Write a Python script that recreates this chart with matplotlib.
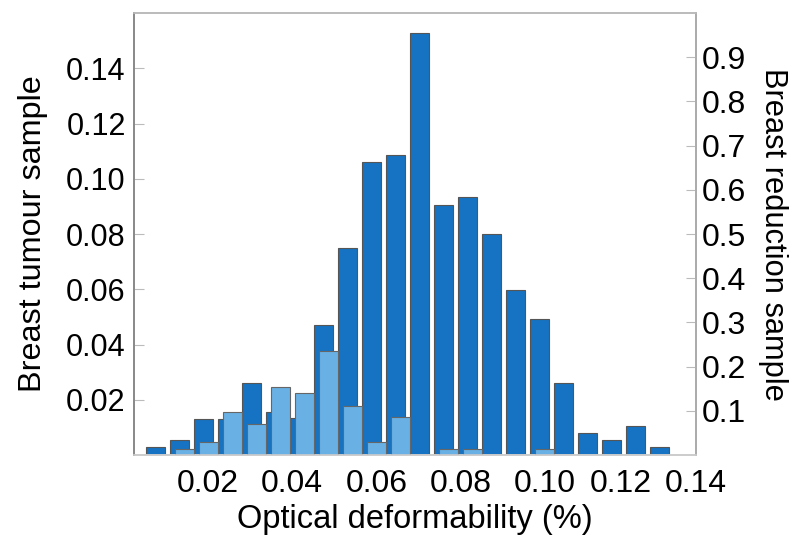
import numpy as np
import matplotlib
matplotlib.use('Agg')
import matplotlib.pyplot as plt

plt.rcParams['font.family'] = ['Liberation Sans', 'DejaVu Sans']

# tumour sample, normalised frequency (left axis), 22 bins
tumour = [0.0029, 0.0054, 0.0130, 0.0130, 0.0260, 0.0157, 0.0134, 0.0470,
          0.0750, 0.1060, 0.1085, 0.1527, 0.0904, 0.0933, 0.0800, 0.0597,
          0.0492, 0.0260, 0.0080, 0.0054, 0.0105, 0.0029]
tumour_first = 0.00753

# reduction sample, normalised frequency (right axis), 16 bins
reduction = [0.0143, 0.0287, 0.0973, 0.0708, 0.154, 0.140, 0.236, 0.110,
             0.0287, 0.0853, 0.0, 0.0143, 0.0143, 0.0, 0.0, 0.0143]
reduction_first = 0.01442

bin_w = 0.0057
xticks = [0.02, 0.04, 0.06, 0.08, 0.10, 0.12]
xticklabels = ['0.02', '0.04', '0.06', '0.08', '0.10', '0.12', '0.14']
left_ticks = [0.02, 0.04, 0.06, 0.08, 0.10, 0.12, 0.14]
right_ticks = [0.1, 0.2, 0.3, 0.4, 0.5, 0.6, 0.7, 0.8, 0.9]

dark = '#1673c3'
light = '#69b1e5'

fig = plt.figure(figsize=(8, 5.51), dpi=100)
ax = fig.add_axes([0.1675, 0.1742, 0.7025, 0.8022])
ax2 = ax.twinx()

xt = tumour_first + bin_w * np.arange(len(tumour))
xr = reduction_first + bin_w * np.arange(len(reduction))
ax.bar(xt, tumour, width=0.0045, color=dark, edgecolor='#555555', linewidth=0.8)
ax2.bar(xr, reduction, width=0.0045, color=light, edgecolor='#666666', linewidth=0.8)

ax.set_xlim(0.0024, 0.1359)
ax.set_ylim(0, 0.16)
ax2.set_ylim(0, 1.0)

# the original squeezes the last labels towards the right edge
ax.set_xticks(xticks[:-1] + [0.1181, 0.1375 - 0.0015])
ax.set_xticklabels(xticklabels, fontsize=23)
ax.tick_params(axis='x', length=0, pad=10)
ax.set_yticks(left_ticks)
ax.set_yticklabels(['%.2f' % v for v in left_ticks], fontsize=22)
ax.tick_params(axis='y', direction='in', length=7, color='#bbbbbb', pad=6)
ax2.set_yticks(right_ticks)
ax2.set_yticklabels(['%.1f' % v for v in right_ticks], fontsize=23)
ax2.tick_params(axis='y', direction='in', length=7, color='#bbbbbb', pad=4)

ax.set_xlabel('Optical deformability (%)', fontsize=23.5, labelpad=4)
ax.set_ylabel('Breast tumour sample', fontsize=23.3, labelpad=13)
ax2.set_ylabel('Breast reduction sample', fontsize=22.2, rotation=270, labelpad=30)

for a in (ax, ax2):
    a.spines['left'].set_color('#888888')
    a.spines['bottom'].set_color('#cccccc')
    a.spines['top'].set_color('#bbbbbb')
    a.spines['right'].set_color('#aaaaaa')
    for s in a.spines.values():
        s.set_linewidth(1.2)

fig.savefig('out.png', dpi=100)
